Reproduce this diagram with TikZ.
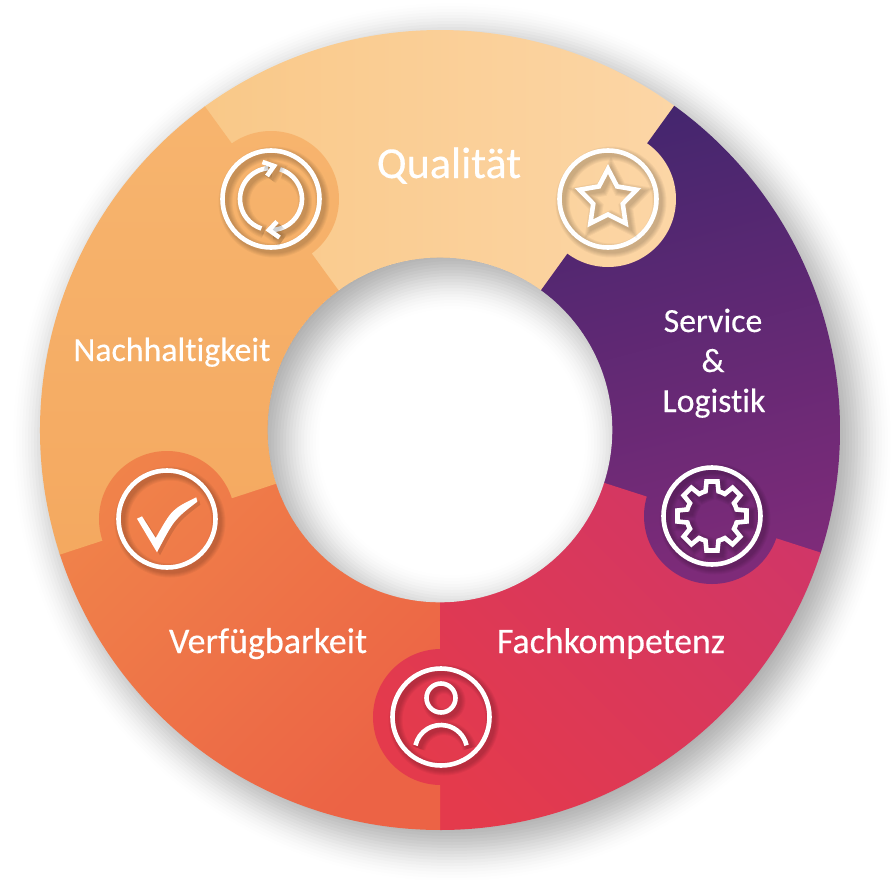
\documentclass[tikz,border=0pt]{standalone}
\usepackage{fontspec}
\setmainfont[Ligatures=CommonOff,FakeBold=0.3]{Carlito}
\usetikzlibrary{calc}
\definecolor{qa}{HTML}{F9C888}\definecolor{qb}{HTML}{FCD6A6}
\definecolor{na}{HTML}{F7B56F}\definecolor{nb}{HTML}{F4A85F}
\definecolor{va}{HTML}{F0834A}\definecolor{vb}{HTML}{EC6345}
\definecolor{fa}{HTML}{D03668}\definecolor{fb}{HTML}{E43A4C}
\definecolor{sa}{HTML}{43266E}\definecolor{sb}{HTML}{7E2B79}
\newcommand\gradQ{\shade[left color=qa,right color=qb] (-240,120) rectangle (240,410);}
\newcommand\gradN{\shade[top color=na,bottom color=nb] (-400,-150) rectangle (-100,340);}
\newcommand\gradV{\shade[top color=va,bottom color=vb,shading angle=45] (-400,-400) rectangle (0,0);}
\newcommand\gradF{\shade[top color=fa,bottom color=fb,shading angle=-45] (-70,-400) rectangle (400,0);}
\newcommand\gradS{\shade[top color=sa,bottom color=sb,shading angle=15] (80,-170) rectangle (400,350);}
\newcommand\sector[3]{\begin{scope}\clip (#1:172) -- (#1:400) arc[start angle=#1,end angle=#2,radius=400] -- (#2:172) arc[start angle=#2,end angle=#1,radius=172] -- cycle; #3\end{scope}}
\newcommand\tab[2]{\begin{scope}\clip (#1) circle[radius=68]; #2\end{scope}}
\newcommand\softline[2][]{%
  \foreach \wd in {6,8,10,12,14} {\draw[black,opacity=.04,line width=\wd pt,shift={(3,-3)},#1] #2;}
  \draw[white,line width=4.6pt,#1] #2;}
\newcommand\lbl[4]{% name, coordinate, size, text
  \node[text=white,anchor=base,font=\fontsize{#3}{#3}\selectfont,inner sep=0pt] (#1) at (#2) {#4};}
\begin{document}
\begin{tikzpicture}[x=1pt,y=1pt]
\useasboundingbox (-440,-449) rectangle (451,430);
\fill[white] (-440,-449) rectangle (451,430);
% outer soft shadow
\foreach \d in {42,39,...,-42} {
  \pgfmathsetmacro\sv{(42-\d)/84}
  \pgfmathsetmacro\opa{6*\sv*(1-\sv)*0.0357*0.42}
  \fill[black,opacity=\opa] (12,-12) circle[radius=400+\d];
}
% ring segments
\sector{54}{126.15}{\gradQ}
\sector{-18}{54.15}{\gradS}
\sector{-90}{-17.85}{\gradF}
\sector{198}{270.15}{\gradV}
\sector{126}{198.15}{\gradN}
% hole with inner shadow
\begin{scope}
\clip (0,0) circle[radius=172.3];
\fill[white] (-180,-180) rectangle (180,180);
\foreach \d in {42,39,...,-42} {
  \pgfmathsetmacro\sv{(42-\d)/84}
  \pgfmathsetmacro\opa{6*\sv*(1-\sv)*0.0357*0.42}
  \fill[black,opacity=\opa,even odd rule] (-220,-220) rectangle (220,220) (12,-12) circle[radius=172-\d];
}
\end{scope}
% icon centres
\coordinate (star) at (168,231);
\coordinate (cyc) at (-169,231);
\coordinate (gear) at (272,-86);
\coordinate (pers) at (1,-287);
\coordinate (chk) at (-273,-89);
% tabs
\tab{star}{\gradQ}
\tab{cyc}{\gradN}
\tab{gear}{\gradS}
\tab{pers}{\gradF}
\tab{chk}{\gradV}
% star icon
\begin{scope}[shift={(star)}]
\softline{(0,0) circle[radius=48.5]}
\softline[line join=miter,miter limit=10]{(90:30) -- (126:15.5) -- (162:30) -- (198:15.5) -- (234:30) -- (270:15.5) -- (306:30) -- (342:15.5) -- (18:30) -- (54:15.5) -- cycle}
\end{scope}
% cycle icon
\begin{scope}[shift={(cyc)}]
\softline{(0,0) circle[radius=48.5]}
\softline{(95:31) arc[start angle=95,end angle=252,radius=31]}
\softline{(73:31) arc[start angle=73,end angle=-92,radius=31]}
\softline[line join=miter]{(-8.5,37) -- (3,33) -- (-4,23)}
\softline[line join=miter]{(6,-22.5) -- (-2,-31) -- (8.5,-38.5)}
\end{scope}
% gear icon
\begin{scope}[shift={(gear)}]
\softline{(0,0) circle[radius=48.5]}
\softline[line join=miter]{(24.65,-6.5) \foreach \a in {0,45,...,315} { -- ([rotate=\a]34.5,-5.5) -- ([rotate=\a]34.5,5.5) -- ([rotate=\a]24.65,6.5) arc[start angle=\a+14.8,end angle=\a+30.2,radius=25.5] } -- cycle}
\end{scope}
% person icon
\begin{scope}[shift={(pers)}]
\softline{(0,0) circle[radius=48.5]}
\softline{(0,19) circle[radius=14.5]}
\softline{(167:26.2) ++(0,-34.2) arc[start angle=167,end angle=13,radius=26.2]}
\end{scope}
% check icon
\begin{scope}[shift={(chk)}]
\softline{(0,0) circle[radius=48.5]}
\fill[black,opacity=.12,shift={(3,-3)}] (-30,0.3) -- (-25,2.7) -- (-11.3,-19) .. controls (5,9.8) .. (29.3,21.7) -- (30.3,17.3) .. controls (7.3,-0.4) .. (-10,-33.3) -- cycle;
\fill[white] (-30,0.3) -- (-25,2.7) -- (-11.3,-19) .. controls (5,9.8) .. (29.3,21.7) -- (30.3,17.3) .. controls (7.3,-0.4) .. (-10,-33.3) -- cycle;
\end{scope}
% labels
\coordinate (lq) at (9,252);
\coordinate (ln) at (-268,69);
\coordinate (lv) at (-172,-223);
\coordinate (lf) at (171,-223);
\coordinate (ls1) at (273,98);
\coordinate (ls2) at (273,58);
\coordinate (ls3) at (274,18);
\lbl{qualitaet}{lq}{44.2}{Qualität}
\lbl{nachhaltigkeit}{ln}{33.8}{Nachhaltigkeit}
\lbl{verfuegbarkeit}{lv}{36}{Verfügbarkeit}
\lbl{fachkompetenz}{lf}{35.8}{Fachkompetenz}
\lbl{service}{ls1}{33.8}{Service}
\lbl{und}{ls2}{33.8}{\&}
\lbl{logistik}{ls3}{33.8}{Logistik}
\end{tikzpicture}
\end{document}
